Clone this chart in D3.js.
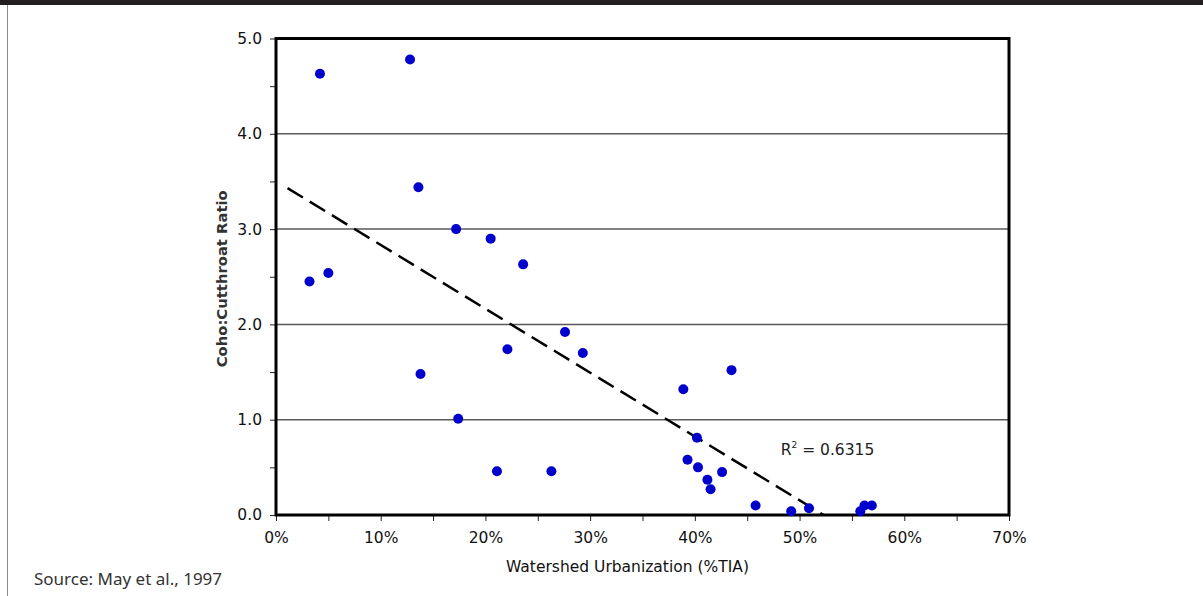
<!DOCTYPE html>
<html>
<head>
<meta charset="utf-8">
<script src="https://cdn.jsdelivr.net/npm/d3@7"></script>
<style>
  body { margin: 0; background: #fff; }
  svg { display: block; }
</style>
</head>
<body>
<div id="chart"></div>
<script>
// watershed urbanization (%TIA) and coho:cutthroat ratio
const urbanization = [4.2, 12.8, 13.6, 17.2, 20.5, 23.6, 3.2, 5.0, 27.6, 22.1, 29.3, 13.8, 17.4, 21.1, 26.3,
    38.9, 43.5, 40.2, 39.3, 40.3, 41.2, 41.5, 42.6, 45.8, 49.2, 50.9, 55.8, 56.2, 56.9];
const ratio = [4.63, 4.78, 3.44, 3.00, 2.90, 2.63, 2.45, 2.54, 1.92, 1.74, 1.70, 1.48, 1.01, 0.46, 0.46,
    1.32, 1.52, 0.81, 0.58, 0.50, 0.37, 0.27, 0.45, 0.10, 0.04, 0.07, 0.04, 0.10, 0.10];

// linear trend line endpoints
const trendX = [1.1, 52.3];
const trendY = [3.43, 0];

const xTicks = [0, 10, 20, 30, 40, 50, 60, 70];
const yTicks = [0, 1, 2, 3, 4, 5];
const rSquared = "0.6315";

const W = 1203, H = 596;
const margin = { top: 38.5, right: 194, bottom: 81, left: 276 };
const width = W - margin.left - margin.right;
const height = H - margin.top - margin.bottom;

const svg = d3.select("#chart").append("svg")
    .attr("width", W)
    .attr("height", H);

//page frame bits
svg.append("rect").attr("x", 0).attr("y", 0).attr("width", W).attr("height", 5).attr("fill", "#231f20");
svg.append("line").attr("x1", 7.5).attr("x2", 7.5).attr("y1", 5).attr("y2", H)
    .attr("stroke", "#8a8a8a").attr("stroke-width", 1);

const g = svg.append("g").attr("transform", `translate(${margin.left},${margin.top})`);

const x = d3.scaleLinear().domain([0, 70]).range([0, width]);
const y = d3.scaleLinear().domain([0, 5]).range([height, 0]);

//grid lines
g.append("g")
  .selectAll("line")
  .data(yTicks.filter(d => d > 0 && d < 5))
  .join("line")
    .attr("x1", 0).attr("x2", width)
    .attr("y1", d => y(d)).attr("y2", d => y(d))
    .attr("stroke", "#5a5a5a")
    .attr("stroke-width", 1.5);

//y axis with minor ticks every 0.5
const yAxis = g.append("g")
    .call(d3.axisLeft(y).tickValues(d3.range(0, 5.01, 0.5)).tickSize(6).tickPadding(8)
        .tickFormat(d => Number.isInteger(d) ? d3.format(".1f")(d) : ""));
yAxis.select(".domain").remove();
yAxis.selectAll("text").attr("font-family", "DejaVu Sans").attr("font-size", 15.5).attr("fill", "#111");
yAxis.selectAll(".tick line").attr("stroke", "#222").attr("stroke-width", 1);

//x axis, ticks every 5%
const xAxis = g.append("g")
    .attr("transform", `translate(0,${height})`)
    .call(d3.axisBottom(x).tickValues(d3.range(0, 70.01, 5)).tickSize(6).tickPadding(11)
        .tickFormat(d => xTicks.includes(d) ? d + "%" : ""));
xAxis.select(".domain").remove();
xAxis.selectAll("text").attr("font-family", "DejaVu Sans").attr("font-size", 15.5).attr("fill", "#111");
xAxis.selectAll(".tick line").attr("stroke", "#222").attr("stroke-width", 1);

//plot frame
g.append("rect")
    .attr("width", width).attr("height", height)
    .attr("fill", "none")
    .attr("stroke", "#000")
    .attr("stroke-width", 3);

//trend line
g.append("line")
    .attr("x1", x(trendX[0])).attr("y1", y(trendY[0]))
    .attr("x2", x(trendX[1])).attr("y2", y(trendY[1]))
    .attr("stroke", "#000")
    .attr("stroke-width", 2.5)
    .attr("stroke-dasharray", "18,8");

//points
g.append("g")
  .selectAll("circle")
  .data(urbanization.map((d, i) => ({ x: d, y: ratio[i] })))
  .join("circle")
    .attr("cx", d => x(d.x))
    .attr("cy", d => y(d.y))
    .attr("r", 5)
    .attr("fill", "#0000cc");

//r squared label
const r2 = g.append("text")
    .attr("x", x(48.2))
    .attr("y", y(0.63))
    .attr("font-family", "DejaVu Sans")
    .attr("font-size", 15.5)
    .attr("fill", "#222");
r2.append("tspan").text("R");
r2.append("tspan").attr("dy", -7).attr("font-size", 9).text("2");
r2.append("tspan").attr("dy", 7).text(" = " + rSquared);

//axis titles
svg.append("text")
    .attr("x", margin.left + width / 2 - 15)
    .attr("y", 572)
    .attr("text-anchor", "middle")
    .attr("font-family", "DejaVu Sans")
    .attr("font-size", 15.5)
    .attr("fill", "#111")
    .text("Watershed Urbanization (%TIA)");

svg.append("text")
    .attr("transform", `translate(227,${margin.top + height / 2 + 2}) rotate(-90)`)
    .attr("text-anchor", "middle")
    .attr("font-family", "DejaVu Sans")
    .attr("font-weight", "bold")
    .attr("font-size", 14.8)
    .attr("fill", "#333")
    .text("Coho:Cutthroat Ratio");

//source note
svg.append("text")
    .attr("x", 34)
    .attr("y", 585)
    .attr("font-family", "Noto Sans")
    .attr("font-size", 17)
    .attr("fill", "#333")
    .text("Source: May et al., 1997");
</script>
</body>
</html>
